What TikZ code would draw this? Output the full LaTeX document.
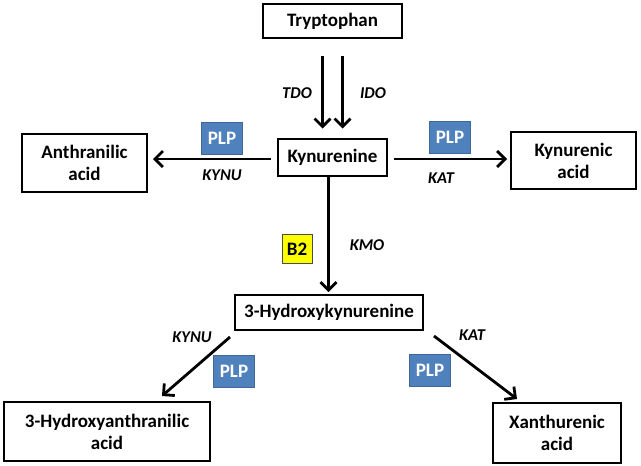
\documentclass[tikz,border=0pt]{standalone}
\usepackage{fontspec}
\setmainfont{Carlito}
\usetikzlibrary{arrows.meta}
\definecolor{plpblue}{HTML}{4F81BD}
\definecolor{plpedge}{HTML}{41679A}
\definecolor{bfill}{HTML}{FFFF00}
\begin{document}
\begin{tikzpicture}[x=1pt,y=-1pt,
  metab/.style={draw=black,line width=2pt,fill=white,align=center,inner sep=0pt,
    font=\bfseries\fontsize{19}{22}\selectfont},
  enz/.style={font=\bfseries\itshape\fontsize{16.5}{19}\selectfont,inner sep=0pt},
  plp/.style={draw=plpedge,line width=1pt,fill=plpblue,text=white,inner sep=0pt,
    minimum width=41pt,minimum height=32pt,font=\bfseries\fontsize{19}{21}\selectfont},
  b2/.style={draw=black!70,line width=0.8pt,fill=bfill,inner sep=0pt,
    minimum width=30pt,minimum height=29pt,font=\bfseries\fontsize{19}{21}\selectfont},
  arr/.style={line width=2.8pt,-{Straight Barb[length=8pt,width=16pt]}}]
\useasboundingbox (0,0) rectangle (641,466);
\fill[white] (0,0) rectangle (641,466);
% metabolites
\node[metab,minimum width=139pt,minimum height=34pt] (tryp) at (332.5,21) {Tryptophan};
\node[metab,minimum width=109pt,minimum height=37pt] (kyn) at (332.5,157) {Kynurenine};
\node[metab,minimum width=125pt,minimum height=58pt] (anth) at (84.5,163) {Anthranilic\\acid};
\node[metab,minimum width=125pt,minimum height=57pt] (kyna) at (573.5,160.5) {Kynurenic\\acid};
\node[metab,minimum width=188pt,minimum height=35pt] (hk) at (329,312.5) {3-Hydroxykynurenine};
\node[metab,minimum width=206pt,minimum height=59pt] (hanth) at (107,431.5) {3-Hydroxyanthranilic\\acid};
\node[metab,minimum width=128pt,minimum height=60pt] (xan) at (557,433) {Xanthurenic\\acid};
% cofactors
\node[plp] (plp1) at (222,138) {PLP};
\node[plp] (plp2) at (450,137) {PLP};
\node[b2] (b2) at (297,249) {B2};
\node[plp] (plp3) at (234,371) {PLP};
\node[plp] (plp4) at (430,370) {PLP};
% enzymes
\node[enz] (tdo) at (297,93) {TDO};
\node[enz] (ido) at (373,93) {IDO};
\node[enz] (kynu1) at (222,175) {KYNU};
\node[enz] (kat1) at (441,178) {KAT};
\node[enz] (kmo) at (367,245) {KMO};
\node[enz] (kynu2) at (192,337) {KYNU};
\node[enz] (kat2) at (472,335) {KAT};
% connectors
\draw[arr] ([xshift=-10pt,yshift=-17pt]tryp.south) -- ([xshift=-10pt,yshift=9pt]kyn.north);
\draw[arr] ([xshift=10pt,yshift=-17pt]tryp.south) -- ([xshift=10pt,yshift=9pt]kyn.north);
\draw[arr] ([xshift=-6pt,yshift=-2pt]kyn.west) -- ([xshift=5pt,yshift=-2pt]kyn.west -| anth.east);
\draw[arr] ([xshift=6pt,yshift=-2pt]kyn.east) -- ([xshift=-3pt,yshift=-2pt]kyn.east -| kyna.west);
\draw[arr] ([xshift=-4pt]kyn.south) -- ([xshift=-4pt,yshift=2pt]kyn.south |- hk.north);
\draw[arr] ([xshift=-4pt,yshift=-6pt]hk.south west) -- ([xshift=55pt,yshift=5pt]hanth.north);
\draw[arr] ([xshift=10pt,yshift=-5pt]hk.south east) -- ([xshift=-40pt,yshift=3pt]xan.north);
\end{tikzpicture}
\end{document}
